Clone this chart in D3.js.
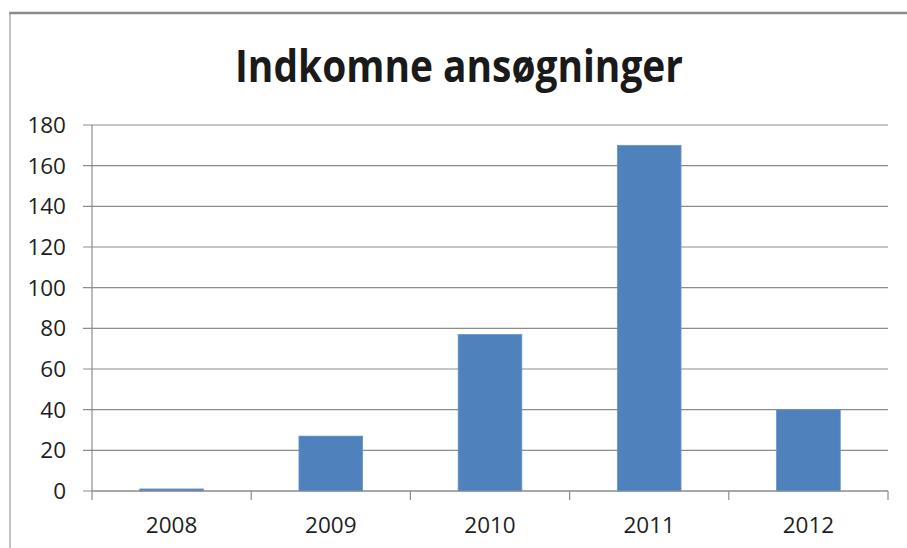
<!DOCTYPE html>
<html>
<head>
<meta charset="utf-8">
<script src="https://cdn.jsdelivr.net/npm/d3@7"></script>
<style>
  body { margin: 0; background: #fff; }
  svg { display: block; }
</style>
</head>
<body>
<svg id="chart" width="907" height="548"></svg>
<script>
const years = ['2008', '2009', '2010', '2011', '2012'];
const values = [1, 27, 77, 170, 40];
const yTicks = [0, 20, 40, 60, 80, 100, 120, 140, 160, 180];
const title = 'Indkomne ansøgninger';

function drawChart() {
  const svg = d3.select('#chart');
  const left = 92, right = 888, top = 125, bottom = 491;

  // frame of the pasted chart (only top and left edges visible)
  svg.append('line')
    .attr('x1', 9).attr('x2', 907).attr('y1', 13).attr('y2', 13)
    .attr('stroke', '#8a8a8a').attr('stroke-width', 2.5);
  svg.append('line')
    .attr('x1', 10).attr('x2', 10).attr('y1', 12).attr('y2', 548)
    .attr('stroke', '#9a9a9a').attr('stroke-width', 1.2);

  const x = d3.scaleBand()
    .domain(years)
    .range([left, right])
    .paddingInner(0.6)
    .paddingOuter(0.3);

  const y = d3.scaleLinear().domain([0, 180]).range([bottom, top]);

  // gridlines + y ticks
  svg.append('g')
    .selectAll('line')
    .data(yTicks)
    .enter()
    .append('line')
    .attr('x1', left - 9)
    .attr('x2', right)
    .attr('y1', (d) => y(d))
    .attr('y2', (d) => y(d))
    .attr('stroke', '#8c8c8c')
    .attr('stroke-width', 1.2);

  svg.append('g')
    .selectAll('text')
    .data(yTicks)
    .enter()
    .append('text')
    .attr('x', 66)
    .attr('y', (d) => y(d))
    .attr('dy', '0.36em')
    .attr('text-anchor', 'end')
    .attr('font-family', 'Open Sans, sans-serif')
    .attr('font-size', 22.5)
    .attr('fill', '#1e1e1e')
    .text((d) => d);

  // y axis line
  svg.append('line')
    .attr('x1', left).attr('x2', left)
    .attr('y1', y(180)).attr('y2', bottom)
    .attr('stroke', '#8c8c8c').attr('stroke-width', 1.2);

  // bars
  svg.append('g')
    .selectAll('rect')
    .data(years)
    .enter()
    .append('rect')
    .attr('x', (d) => x(d))
    .attr('width', x.bandwidth())
    .attr('y', (d, i) => y(values[i]))
    .attr('height', (d, i) => y(0) - y(values[i]))
    .attr('fill', '#4f81bd')
    .attr('stroke', '#6a94c8')
    .attr('stroke-width', 0.8);

  // x axis line + category boundary ticks
  svg.append('line')
    .attr('x1', left).attr('x2', right)
    .attr('y1', bottom).attr('y2', bottom)
    .attr('stroke', '#8c8c8c').attr('stroke-width', 1.2);

  const bounds = years.map((d) => x(d) - x.step() * 0.3).concat([right]);
  svg.append('g')
    .selectAll('line')
    .data(bounds)
    .enter()
    .append('line')
    .attr('x1', (d) => d).attr('x2', (d) => d)
    .attr('y1', bottom).attr('y2', bottom + 9)
    .attr('stroke', '#8c8c8c').attr('stroke-width', 1.2);

  svg.append('g')
    .selectAll('text')
    .data(years)
    .enter()
    .append('text')
    .attr('x', (d) => x(d) + x.bandwidth() / 2)
    .attr('y', 533)
    .attr('text-anchor', 'middle')
    .attr('font-family', 'Open Sans, sans-serif')
    .attr('font-size', 22.5)
    .attr('fill', '#1e1e1e')
    .text((d) => d);

  // title: Calibri-like height, squeezed to the original width
  svg.append('text')
    .attr('x', 459)
    .attr('y', 82)
    .attr('text-anchor', 'middle')
    .attr('font-family', 'Open Sans, sans-serif')
    .attr('font-weight', 'bold')
    .attr('font-size', 44)
    .attr('textLength', 448)
    .attr('lengthAdjust', 'spacingAndGlyphs')
    .attr('fill', '#1a1a1a')
    .text(title);
}

drawChart();
</script>
</body>
</html>
